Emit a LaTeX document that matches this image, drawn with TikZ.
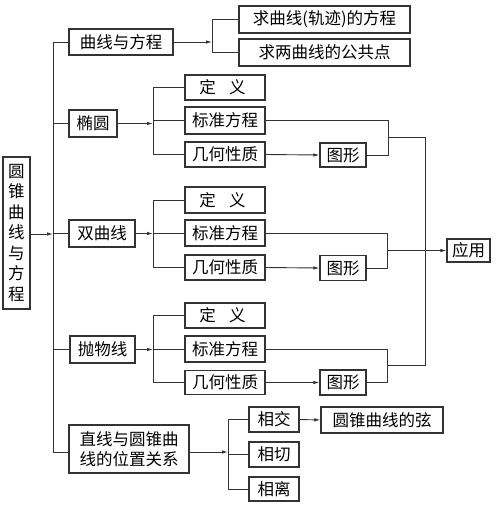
\documentclass[tikz,border=0pt]{standalone}
\usepackage{fontspec}
\newfontfamily\cjk{Noto Sans CJK SC}
\usetikzlibrary{arrows.meta}
\definecolor{linec}{HTML}{333333}
\begin{document}
\begin{tikzpicture}[x=1pt,y=-1pt,
  box/.style={draw=linec, line width=1.2pt, inner sep=0pt, align=center,
    font=\cjk\fontsize{16.5}{20.5}\selectfont, text=black},
  conn/.style={draw=linec, line width=0.9pt},
  arr/.style={conn, -{Latex[length=6pt,width=3.5pt]}}]
\useasboundingbox (0,0) rectangle (500,509);
% nodes
\node[box, minimum width=27pt, minimum height=152pt] (root) at (16.5,233) {圆\\锥\\曲\\线\\与\\方\\程};
\node[box, minimum width=104pt, minimum height=26pt] (qx) at (121,42) {曲线与方程};
\node[box, minimum width=171pt, minimum height=27pt] (q1) at (324.5,19.5) {求曲线(轨迹)的方程};
\node[box, minimum width=171pt, minimum height=27pt] (q2) at (324.5,52.5) {求两曲线的公共点};
\node[box, minimum width=48pt, minimum height=27pt] (ty) at (93,123.5) {椭圆};
\node[box, minimum width=80pt, minimum height=25pt] (d1) at (225,87.5) {定\hspace{0.8em}义\hspace{0.3em}};
\node[box, minimum width=80pt, minimum height=27pt] (b1) at (225,120.5) {标准方程};
\node[box, minimum width=80pt, minimum height=25pt] (j1) at (225,154.5) {几何性质};
\node[box, minimum width=46pt, minimum height=24pt] (t1) at (343,155) {图形};
\node[box, minimum width=66pt, minimum height=27pt] (sq) at (102,233.5) {双曲线};
\node[box, minimum width=80pt, minimum height=26pt] (d2) at (225,200) {定\hspace{0.8em}义\hspace{0.3em}};
\node[box, minimum width=80pt, minimum height=26pt] (b2) at (225,233) {标准方程};
\node[box, minimum width=80pt, minimum height=25pt] (j2) at (225,267.5) {几何性质};
\node[box, minimum width=46pt, minimum height=25pt] (t2) at (343,268) {图形};
\node[box, minimum width=43pt, minimum height=23pt] (yy) at (468.5,250.5) {应用};
\node[box, minimum width=65pt, minimum height=27pt] (pw) at (102.5,349.5) {抛物线};
\node[box, minimum width=80pt, minimum height=25pt] (d3) at (225,315.5) {定\hspace{0.8em}义\hspace{0.3em}};
\node[box, minimum width=80pt, minimum height=26pt] (b3) at (225,349) {标准方程};
\node[box, minimum width=80pt, minimum height=24pt] (j3) at (225,382.5) {几何性质};
\node[box, minimum width=46pt, minimum height=25pt] (t3) at (343,382.5) {图形};
\node[box, minimum width=120pt, minimum height=48pt] (zx) at (129,449) {直线与圆锥曲\\线的位置关系};
\node[box, minimum width=50pt, minimum height=25pt] (xj) at (274,419.5) {相交};
\node[box, minimum width=50pt, minimum height=25pt] (xq) at (274,454.5) {相切};
\node[box, minimum width=50pt, minimum height=24pt] (xl) at (274,489) {相离};
\node[box, minimum width=122pt, minimum height=26pt] (xian) at (382,420) {圆锥曲线的弦};
% bus coordinates
\coordinate (mt) at (53,42);
\coordinate (mb) at (53,452);
\coordinate (mr) at (53,234);
\coordinate (qb) at (212,42);
\coordinate (tb) at (153,123.5);
\coordinate (sb) at (153,233.5);
\coordinate (pb) at (153,349.5);
\coordinate (zb) at (228,452);
\coordinate (m1) at (388,137.75);
\coordinate (m2) at (387,250.5);
\coordinate (m3) at (387,365.75);
\coordinate (ry) at (425,250.5);
% main
\draw[arr] (root.east |- mr) -- (mr);
\draw[conn] (mt) -- (mb);
\draw[conn] (mt) -- (qx.west);
\draw[conn] (mt |- ty.west) -- (ty.west);
\draw[conn] (mt |- sq.west) -- (sq.west);
\draw[conn] (mt |- pw.west) -- (pw.west);
\draw[conn] (mb) -- (zx.west |- mb);
% curve & equation
\draw[arr] (qx.east) -- (qb);
\draw[conn] (qb |- q1.west) -- (qb |- q2.west);
\draw[conn] (qb |- q1.west) -- (q1.west);
\draw[conn] (qb |- q2.west) -- (q2.west);
% ellipse
\draw[arr] (ty.east) -- (tb);
\draw[conn] (tb |- d1.west) -- (tb |- j1.west);
\draw[conn] (tb |- d1.west) -- (d1.west);
\draw[conn] (tb |- b1.west) -- (b1.west);
\draw[conn] (tb |- j1.west) -- (j1.west);
\draw[arr] (j1.east) -- (t1.west);
\draw[conn] (b1.east) -- (m1 |- b1.east) -- (m1 |- t1.east) -- (t1.east);
\draw[conn] (m1) -- (ry |- m1) -- (ry |- m3) -- (m3);
% hyperbola
\draw[arr] (sq.east) -- (sb);
\draw[conn] (sb |- d2.west) -- (sb |- j2.west);
\draw[conn] (sb |- d2.west) -- (d2.west);
\draw[conn] (sb |- b2.west) -- (b2.west);
\draw[conn] (sb |- j2.west) -- (j2.west);
\draw[arr] (j2.east) -- (t2.west);
\draw[conn] (b2.east) -- (m2 |- b2.east) -- (m2 |- t2.east) -- (t2.east);
\draw[arr] (m2) -- (yy.west);
% parabola
\draw[arr] (pw.east) -- (pb);
\draw[conn] (pb |- d3.west) -- (pb |- j3.west);
\draw[conn] (pb |- d3.west) -- (d3.west);
\draw[conn] (pb |- b3.west) -- (b3.west);
\draw[conn] (pb |- j3.west) -- (j3.west);
\draw[arr] (j3.east) -- (t3.west);
\draw[conn] (b3.east) -- (m3 |- b3.east) -- (m3 |- t3.east) -- (t3.east);
% line & conic
\draw[arr] (zx.east |- zb) -- (zb);
\draw[conn] (zb |- xj.west) -- (zb |- xl.west);
\draw[conn] (zb |- xj.west) -- (xj.west);
\draw[conn] (zb |- xq.west) -- (xq.west);
\draw[conn] (zb |- xl.west) -- (xl.west);
\draw[arr] (xj.east) -- (xian.west);
\end{tikzpicture}
\end{document}
